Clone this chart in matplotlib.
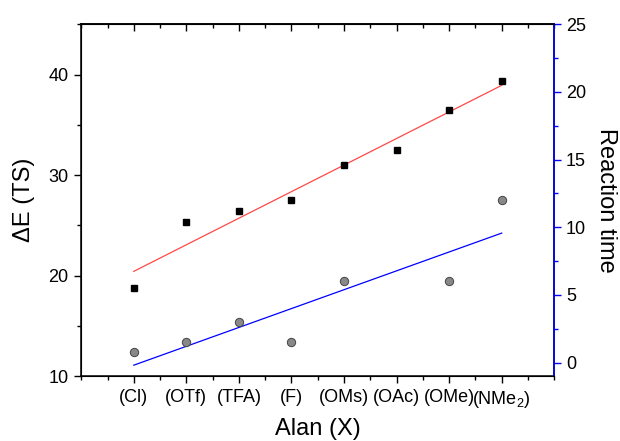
import numpy as np
import matplotlib.pyplot as plt
from matplotlib.ticker import MultipleLocator

plt.rcParams['font.family'] = ['Liberation Sans', 'DejaVu Sans']
plt.rcParams['mathtext.default'] = 'regular'

labels = ['(Cl)', '(OTf)', '(TFA)', '(F)', '(OMs)', '(OAc)', '(OMe)', '(NMe$_2$)']
x = np.arange(1, 9)
energy = [18.8, 25.3, 26.4, 27.5, 31.0, 32.5, 36.5, 39.4]
# reaction time, no point for (OAc)
rt = [0.75, 1.5, 3.0, 1.5, 6.0, np.nan, 6.0, 12.0]

fig = plt.figure(figsize=(6.2, 4.41), dpi=100)
ax = fig.add_axes([0.131, 0.147, 0.763, 0.798])
ax2 = ax.twinx()

ax.plot(x, energy, 's', color='black', markersize=5, zorder=3)
k, b = np.polyfit(x, energy, 1)
ax.plot(x, k * x + b, color='#ff4848', lw=0.9)

rt = np.array(rt)
ok = ~np.isnan(rt)
ax2.plot(x[ok], rt[ok], 'o', color='#888888', mec='#444444', mew=0.7, markersize=6, zorder=3)
k2, b2 = np.polyfit(x[ok], rt[ok], 1)
ax2.plot(x, k2 * x + b2, color='#0000ff', lw=0.9)

ax.set_xlim(0, 9)
ax.set_ylim(10, 45)
ax2.set_ylim(-1, 25)

ax.set_xticks(x)
ax.set_xticklabels(labels)
ax.xaxis.set_minor_locator(MultipleLocator(0.5))
ax.set_yticks([10, 20, 30, 40])
ax.yaxis.set_minor_locator(MultipleLocator(5))
ax2.set_yticks([0, 5, 10, 15, 20, 25])
ax2.yaxis.set_minor_locator(MultipleLocator(2.5))

ax.tick_params(axis='both', which='major', labelsize=13, length=5, width=1, pad=4)
ax.tick_params(axis='both', which='minor', length=3, width=1)
ax2.tick_params(axis='y', which='major', labelsize=13, length=5, width=1, colors='#0000ff', labelcolor='black')
ax2.tick_params(axis='y', which='minor', length=3, width=1, colors='#0000ff')

# top ticks pointing inward, no labels
top = ax.secondary_xaxis('top')
top.set_xticks(x)
top.xaxis.set_minor_locator(MultipleLocator(0.5))
top.tick_params(which='major', direction='in', length=5, width=1, labeltop=False)
top.tick_params(which='minor', direction='in', length=3, width=1)
top.spines['top'].set_linewidth(1.1)

ax2.spines['right'].set_color('#0000ff')
for s in ax.spines.values():
    s.set_linewidth(1.1)
ax2.spines['right'].set_linewidth(1.1)

ax.set_xlabel('Alan (X)', fontsize=17, labelpad=6)
ax.set_ylabel('ΔE (TS)', fontsize=17, labelpad=10)
ax2.set_ylabel('Reaction time', fontsize=17, rotation=270, labelpad=22)

fig.savefig('out.png', dpi=100)
